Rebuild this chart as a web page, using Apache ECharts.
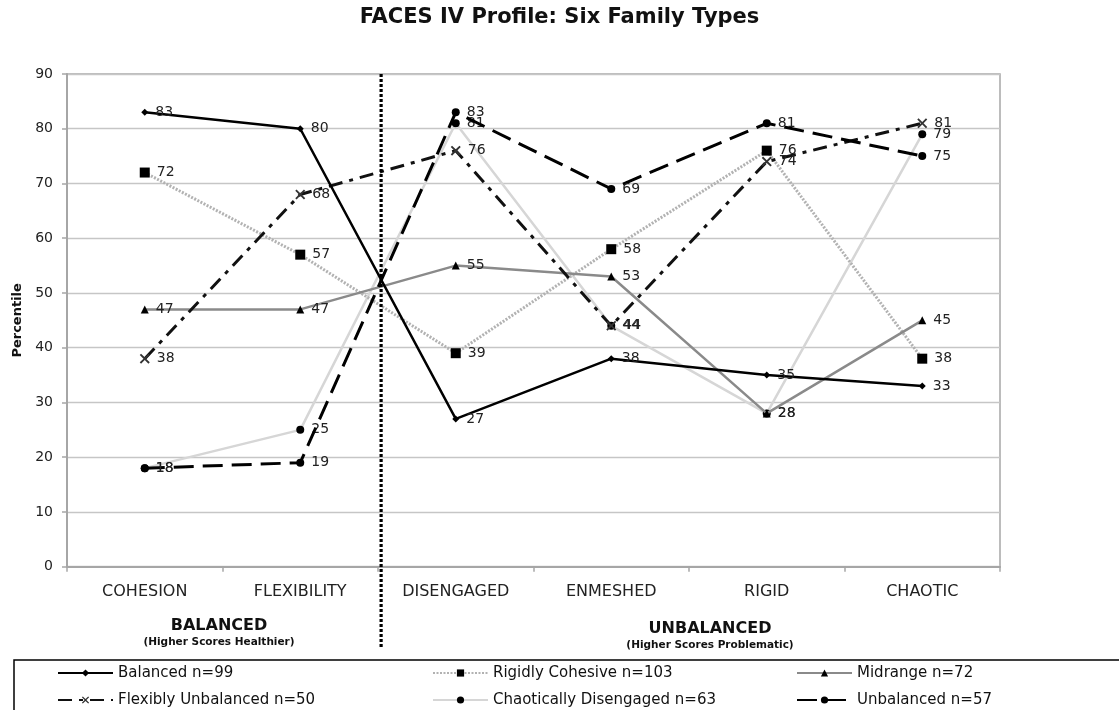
<!DOCTYPE html>
<html><head><meta charset="utf-8">
<script src="https://cdn.jsdelivr.net/npm/echarts@6/dist/echarts.min.js"></script>
<style>html,body{margin:0;padding:0;background:#fff}#c{width:1119px;height:710px}</style>
</head><body><div id="c"></div>
<script>
// ---- data ----
const categories = ['COHESION', 'FLEXIBILITY', 'DISENGAGED', 'ENMESHED', 'RIGID', 'CHAOTIC'];
const balanced = [83, 80, 27, 38, 35, 33];
const rigidlyCohesive = [72, 57, 39, 58, 76, 38];
const midrange = [47, 47, 55, 53, 28, 45];
const flexiblyUnbalanced = [38, 68, 76, 44, 74, 81];
const chaoticallyDisengaged = [18, 25, 81, 44, 28, 79];
const unbalanced = [18, 19, 83, 69, 81, 75];
const seriesNames = ['Balanced n=99', 'Rigidly Cohesive n=103', 'Midrange n=72',
  'Flexibly Unbalanced n=50', 'Chaotically Disengaged n=63', 'Unbalanced n=57'];
const yMin = 0, yMax = 90, yStep = 10;
const dividerPos = [2.02];           // between FLEXIBILITY and DISENGAGED (category units)
const groupLabels = ['BALANCED', 'UNBALANCED'];
const groupNotes = ['(Higher Scores Healthier)', '(Higher Scores Problematic)'];

const FONT = 'DejaVu Sans';
const chart = echarts.init(document.getElementById('c'), null, {renderer: 'canvas'});

function lbl() {
  return {show: true, position: 'right', distance: 7, color: '#222', fontSize: 14, fontFamily: FONT};
}
const xPath = 'path://M0,1.3L1.3,0L5,3.7L8.7,0L10,1.3L6.3,5L10,8.7L8.7,10L5,6.3L1.3,10L0,8.7L3.7,5Z';

const series = [
  {name: seriesNames[0], type: 'line', data: balanced, symbol: 'diamond', symbolSize: 7,
    lineStyle: {color: '#000', width: 2.5}, itemStyle: {color: '#000'}, label: lbl(), z: 6},
  {name: seriesNames[1], type: 'line', data: rigidlyCohesive, symbol: 'rect', symbolSize: 10,
    lineStyle: {color: '#b2b2b2', width: 3, type: [2, 1.5]}, itemStyle: {color: '#000'}, label: lbl(), z: 3},
  {name: seriesNames[2], type: 'line', data: midrange, symbol: 'triangle', symbolSize: 8,
    lineStyle: {color: '#8a8a8a', width: 2.5}, itemStyle: {color: '#000'}, label: lbl(), z: 4},
  {name: seriesNames[3], type: 'line', data: flexiblyUnbalanced, symbol: xPath, symbolSize: 10,
    lineStyle: {color: '#111', width: 3, type: [14, 7, 4, 7]}, itemStyle: {color: '#333'}, label: lbl(), z: 5},
  {name: seriesNames[4], type: 'line', data: chaoticallyDisengaged, symbol: 'circle', symbolSize: 8,
    lineStyle: {color: '#d6d6d6', width: 2.5}, itemStyle: {color: '#000'}, label: lbl(), z: 2},
  {name: seriesNames[5], type: 'line', data: unbalanced, symbol: 'circle', symbolSize: 8,
    lineStyle: {color: '#000', width: 3, type: [20, 9]}, itemStyle: {color: '#000'}, label: lbl(), z: 5},
  {name: 'divider', type: 'line', xAxisIndex: 1, yAxisIndex: 0, clip: false, silent: true,
    data: [[dividerPos[0], yMax], [dividerPos[0], -15]], symbol: 'none',
    lineStyle: {color: '#000', width: 3.2, type: [3, 2]}, z: 7}
];

const legendLeft = [57, 432, 796];
const legendTop = [665, 692];
function legendItem(i) {
  return {
    orient: 'horizontal', itemWidth: 55, itemHeight: 9, itemGap: 0,
    left: legendLeft[i % 3], top: legendTop[Math.floor(i / 3)],
    data: [seriesNames[i]],
    textStyle: {fontSize: 15, fontFamily: FONT, color: '#111', lineHeight: 16},
    selectedMode: false, padding: 0
  };
}

const option = {
  backgroundColor: '#fff',
  animation: false,
  title: {
    text: 'FACES IV Profile: Six Family Types', left: 'center', top: 7, padding: 0,
    textStyle: {fontFamily: FONT, fontSize: 21, fontWeight: 'bold', color: '#111'}
  },
  grid: {left: 67, right: 119, top: 74, bottom: 143.3, show: true, borderColor: '#a6a6a6', borderWidth: 1.5,
    outerBoundsMode: 'none', containLabel: false},
  xAxis: [
    {type: 'category', data: categories, boundaryGap: true,
      axisLine: {lineStyle: {color: '#a6a6a6', width: 2}},
      axisTick: {show: true, length: 5, lineStyle: {color: '#a6a6a6', width: 1.5}},
      axisLabel: {fontSize: 16, fontFamily: FONT, color: '#222', margin: 17},
      splitLine: {show: false}},
    {type: 'value', min: 0, max: categories.length, show: false, splitLine: {show: false}}
  ],
  yAxis: {
    type: 'value', min: yMin, max: yMax, interval: yStep,
    name: 'Percentile', nameLocation: 'middle', nameGap: 42, nameRotate: 90,
    nameTextStyle: {fontFamily: FONT, fontSize: 13, fontWeight: 'bold', color: '#111'},
    axisLine: {show: true, lineStyle: {color: '#a6a6a6', width: 2}},
    axisTick: {show: true, length: 5, lineStyle: {color: '#a6a6a6', width: 1.5}},
    axisLabel: {fontSize: 14, fontFamily: FONT, color: '#222', margin: 14},
    splitLine: {lineStyle: {color: '#c6c6c6', width: 1.3}}
  },
  legend: [0, 1, 2, 3, 4, 5].map(legendItem),
  graphic: [
    {type: 'rect', shape: {x: 14, y: 660, width: 1125, height: 60}, style: {fill: 'none', stroke: '#000', lineWidth: 1.5}, silent: true},
    {type: 'text', x: 219, y: 626, style: {text: groupLabels[0], font: 'bold 16px "DejaVu Sans"', fill: '#111', textAlign: 'center', textVerticalAlign: 'middle'}},
    {type: 'text', x: 219, y: 642, style: {text: groupNotes[0], font: 'bold 10.5px "DejaVu Sans"', fill: '#111', textAlign: 'center', textVerticalAlign: 'middle'}},
    {type: 'text', x: 710, y: 629, style: {text: groupLabels[1], font: 'bold 16px "DejaVu Sans"', fill: '#111', textAlign: 'center', textVerticalAlign: 'middle'}},
    {type: 'text', x: 710, y: 645, style: {text: groupNotes[1], font: 'bold 10.5px "DejaVu Sans"', fill: '#111', textAlign: 'center', textVerticalAlign: 'middle'}}
  ],
  series: series
};
chart.setOption(option);
</script>
</body></html>
